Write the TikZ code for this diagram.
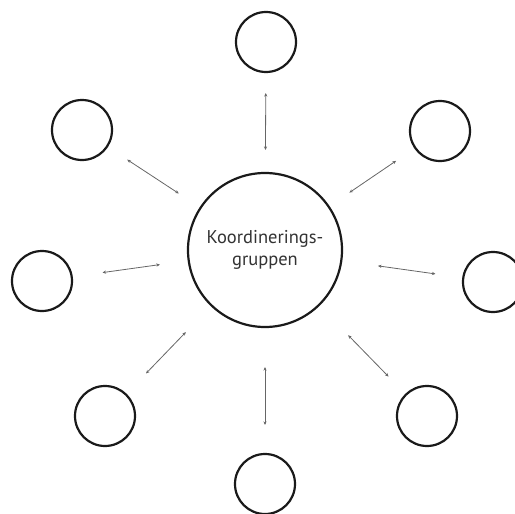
\documentclass[tikz,border=0pt]{standalone}
\usepackage{fontspec}
\setmainfont{PT Sans}
\usetikzlibrary{arrows.meta}
\definecolor{ink}{HTML}{1A1A1A}
\definecolor{linkgray}{HTML}{666666}
\definecolor{textgray}{HTML}{333333}
\begin{document}
\begin{tikzpicture}[x=1pt,y=-1pt,
  member/.style={circle,draw=ink,line width=2.2pt,minimum size=60pt,inner sep=0pt},
  hub/.style={circle,draw=ink,line width=2.2pt,minimum size=154pt,inner sep=0pt,
    align=center,text=textgray,font=\fontsize{18.5}{21.5}\selectfont},
  link/.style={linkgray,line width=0.8pt,{Stealth[length=3.5pt,width=3.2pt]}-{Stealth[length=3.5pt,width=3.2pt]}}]
\useasboundingbox (0,0) rectangle (515,514);
% central group
\node[hub] (hub) at (265,250) {Koordinerings-\\gruppen};
% surrounding members
\node[member] (n)  at (266,42) {};
\node[member] (nw) at (82,130) {};
\node[member] (ne) at (440,131) {};
\node[member] (w)  at (42,281) {};
\node[member] (e)  at (493,282) {};
\node[member] (sw) at (105,416) {};
\node[member] (se) at (427,416) {};
\node[member] (s)  at (265,484) {};
% two-way links
\draw[link,shorten <=22pt,shorten >=20pt] (hub) -- (n);
\draw[link,shorten <=25pt,shorten >=23pt] (hub) -- (nw);
\draw[link,shorten <=24pt,shorten >=22pt] (hub) -- (ne);
\draw[link,shorten <=28pt,shorten >=30pt] (hub) -- (w);
\draw[link,shorten <=36pt,shorten >=27pt] (hub) -- (e);
\draw[link,shorten <=36pt,shorten >=28pt] (hub) -- (sw);
\draw[link,shorten <=41pt,shorten >=24pt] (hub) -- (se);
\draw[link,shorten <=39pt,shorten >=28pt] (hub) -- (s);
\end{tikzpicture}
\end{document}
